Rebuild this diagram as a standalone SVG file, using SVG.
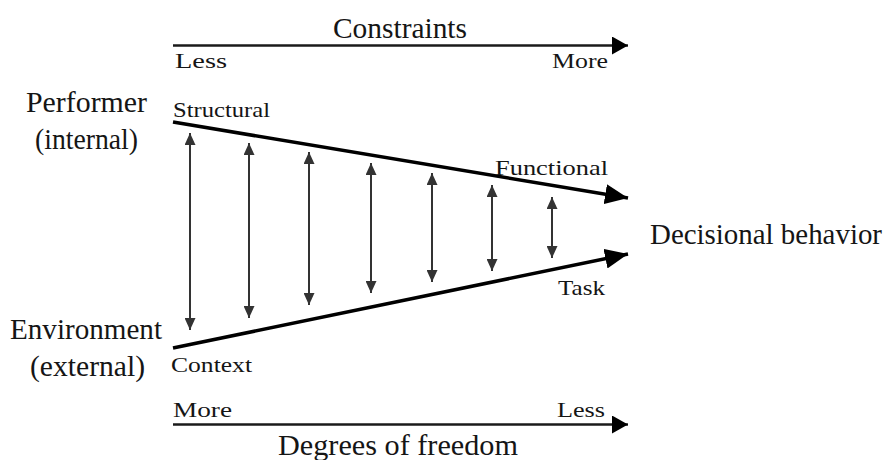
<svg xmlns="http://www.w3.org/2000/svg" width="889" height="460" viewBox="0 0 889 460">
<defs>
<style>
text{font-family:'Liberation Serif','DejaVu Serif',serif;fill:#151515}
.big{font-size:29px}
.sm{font-size:22px}
.axis{stroke:#1a1a1a;stroke-width:2.5;fill:none}
.edge{stroke:#000;stroke-width:3.5;fill:none}
.va{stroke:#333;stroke-width:2;fill:none}
</style>
<marker id="ah" markerUnits="userSpaceOnUse" markerWidth="18" markerHeight="18" refX="16" refY="9" orient="auto" viewBox="0 0 18 18"><path d="M0,0 L16,9 L0,18 Z" fill="#000"/></marker>
<marker id="ahb" markerUnits="userSpaceOnUse" markerWidth="24" markerHeight="20" refX="23" refY="10" orient="auto" viewBox="0 0 24 20"><path d="M0,0 L23,10 L0,20 Z" fill="#000"/></marker>
<marker id="av" markerUnits="userSpaceOnUse" markerWidth="12" markerHeight="11" refX="12" refY="5.5" orient="auto-start-reverse" viewBox="0 0 12 11"><path d="M0,0 L12,5.5 L0,11 Z" fill="#333"/></marker>
</defs>
<rect width="889" height="460" fill="#fff"/>
<g id="connectors">
<line class="axis" x1="173" y1="45.5" x2="628" y2="45.5" marker-end="url(#ah)"/>
<line class="axis" x1="173" y1="424.5" x2="628" y2="424.5" marker-end="url(#ah)"/>
<line class="edge" x1="173" y1="122" x2="628" y2="198" marker-end="url(#ahb)"/>
<line class="edge" x1="173" y1="348" x2="628" y2="254" marker-end="url(#ahb)"/>
<line class="va" x1="190" y1="133" x2="190" y2="330" marker-start="url(#av)" marker-end="url(#av)"/>
<line class="va" x1="249" y1="143" x2="249" y2="318" marker-start="url(#av)" marker-end="url(#av)"/>
<line class="va" x1="309" y1="152" x2="309" y2="305" marker-start="url(#av)" marker-end="url(#av)"/>
<line class="va" x1="371" y1="163" x2="371" y2="293" marker-start="url(#av)" marker-end="url(#av)"/>
<line class="va" x1="432" y1="173" x2="432" y2="282" marker-start="url(#av)" marker-end="url(#av)"/>
<line class="va" x1="492" y1="185" x2="492" y2="271" marker-start="url(#av)" marker-end="url(#av)"/>
<line class="va" x1="552" y1="197" x2="552" y2="258" marker-start="url(#av)" marker-end="url(#av)"/>
</g>
<g id="constraints"><text class="big" x="333" y="38" textLength="134" lengthAdjust="spacingAndGlyphs">Constraints</text></g>
<g id="less-top"><text class="sm" x="175" y="68" textLength="52" lengthAdjust="spacingAndGlyphs">Less</text></g>
<g id="more-top"><text class="sm" x="552" y="68" textLength="56" lengthAdjust="spacingAndGlyphs">More</text></g>
<g id="performer">
<text class="big" x="26" y="112" textLength="121" lengthAdjust="spacingAndGlyphs">Performer</text>
<text class="big" x="35" y="149" textLength="103" lengthAdjust="spacingAndGlyphs">(internal)</text>
</g>
<g id="structural"><text class="sm" x="173" y="117" textLength="97" lengthAdjust="spacingAndGlyphs">Structural</text></g>
<g id="functional"><text class="sm" x="495" y="175" textLength="113" lengthAdjust="spacingAndGlyphs">Functional</text></g>
<g id="decisional"><text class="big" x="650" y="244" textLength="232" lengthAdjust="spacingAndGlyphs">Decisional behavior</text></g>
<g id="task"><text class="sm" x="558" y="295" textLength="47" lengthAdjust="spacingAndGlyphs">Task</text></g>
<g id="environment">
<text class="big" x="10" y="339" textLength="152" lengthAdjust="spacingAndGlyphs">Environment</text>
<text class="big" x="30" y="376" textLength="115" lengthAdjust="spacingAndGlyphs">(external)</text>
</g>
<g id="context"><text class="sm" x="171" y="372" textLength="81" lengthAdjust="spacingAndGlyphs">Context</text></g>
<g id="more-bottom"><text class="sm" x="173" y="417" textLength="59" lengthAdjust="spacingAndGlyphs">More</text></g>
<g id="less-bottom"><text class="sm" x="557" y="417" textLength="48" lengthAdjust="spacingAndGlyphs">Less</text></g>
<g id="freedom"><text class="big" x="278" y="455" textLength="240" lengthAdjust="spacingAndGlyphs">Degrees of freedom</text></g>
</svg>
